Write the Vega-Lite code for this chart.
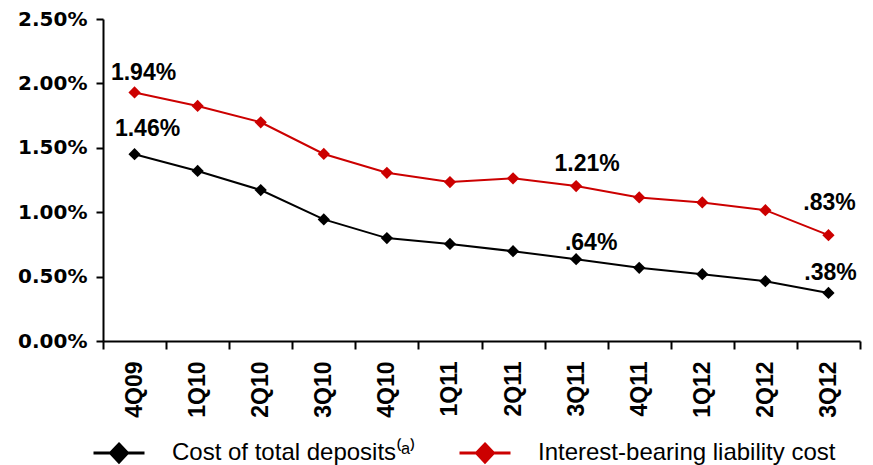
{
  "$schema": "https://vega.github.io/schema/vega-lite/v6.json",
  "width": 757,
  "height": 322,
  "autosize": {"type": "none"},
  "padding": {"left": 103, "top": 19, "right": 13, "bottom": 124},
  "config": {"view": {"stroke": null}, "font": "Liberation Sans"},
  "data": {
    "values": [
      {"quarter": "4Q09", "series": "Cost of total deposits⁽ᵃ⁾", "value": 1.45, "label": "1.46%"},
      {"quarter": "4Q09", "series": "Interest-bearing liability cost", "value": 1.93, "label": "1.94%"},
      {"quarter": "1Q10", "series": "Cost of total deposits⁽ᵃ⁾", "value": 1.32, "label": ""},
      {"quarter": "1Q10", "series": "Interest-bearing liability cost", "value": 1.825, "label": ""},
      {"quarter": "2Q10", "series": "Cost of total deposits⁽ᵃ⁾", "value": 1.172, "label": ""},
      {"quarter": "2Q10", "series": "Interest-bearing liability cost", "value": 1.698, "label": ""},
      {"quarter": "3Q10", "series": "Cost of total deposits⁽ᵃ⁾", "value": 0.944, "label": ""},
      {"quarter": "3Q10", "series": "Interest-bearing liability cost", "value": 1.452, "label": ""},
      {"quarter": "4Q10", "series": "Cost of total deposits⁽ᵃ⁾", "value": 0.799, "label": ""},
      {"quarter": "4Q10", "series": "Interest-bearing liability cost", "value": 1.306, "label": ""},
      {"quarter": "1Q11", "series": "Cost of total deposits⁽ᵃ⁾", "value": 0.754, "label": ""},
      {"quarter": "1Q11", "series": "Interest-bearing liability cost", "value": 1.234, "label": ""},
      {"quarter": "2Q11", "series": "Cost of total deposits⁽ᵃ⁾", "value": 0.697, "label": ""},
      {"quarter": "2Q11", "series": "Interest-bearing liability cost", "value": 1.263, "label": ""},
      {"quarter": "3Q11", "series": "Cost of total deposits⁽ᵃ⁾", "value": 0.635, "label": ".64%"},
      {"quarter": "3Q11", "series": "Interest-bearing liability cost", "value": 1.203, "label": "1.21%"},
      {"quarter": "4Q11", "series": "Cost of total deposits⁽ᵃ⁾", "value": 0.568, "label": ""},
      {"quarter": "4Q11", "series": "Interest-bearing liability cost", "value": 1.115, "label": ""},
      {"quarter": "1Q12", "series": "Cost of total deposits⁽ᵃ⁾", "value": 0.519, "label": ""},
      {"quarter": "1Q12", "series": "Interest-bearing liability cost", "value": 1.076, "label": ""},
      {"quarter": "2Q12", "series": "Cost of total deposits⁽ᵃ⁾", "value": 0.464, "label": ""},
      {"quarter": "2Q12", "series": "Interest-bearing liability cost", "value": 1.016, "label": ""},
      {"quarter": "3Q12", "series": "Cost of total deposits⁽ᵃ⁾", "value": 0.373, "label": ".38%"},
      {"quarter": "3Q12", "series": "Interest-bearing liability cost", "value": 0.822, "label": ".83%"}
    ]
  },
  "encoding": {
    "x": {
      "field": "quarter",
      "type": "ordinal",
      "sort": null,
      "scale": {"type": "band", "paddingInner": 0, "paddingOuter": 0},
      "axis": {
        "title": null,
        "labelAngle": -90,
        "labelFont": "Liberation Sans",
        "labelFontSize": 23,
        "labelFontWeight": "bold",
        "labelColor": "#000000",
        "labelPadding": 12,
        "tickBand": "extent",
        "tickSize": 8,
        "tickWidth": 2,
        "tickColor": "#000000",
        "domainColor": "#000000",
        "domainWidth": 2,
        "grid": false
      }
    },
    "y": {
      "field": "value",
      "type": "quantitative",
      "scale": {"domain": [0, 2.5], "nice": false},
      "axis": {
        "title": null,
        "values": [0, 0.5, 1, 1.5, 2, 2.5],
        "labelExpr": "format(datum.value, '.2f') + '%'",
        "labelFont": "DejaVu Sans",
        "labelFontWeight": "bold",
        "labelFontSize": 20,
        "labelColor": "#000000",
        "labelPadding": 9,
        "tickSize": 7,
        "tickWidth": 2,
        "tickColor": "#000000",
        "domainColor": "#000000",
        "domainWidth": 2,
        "grid": false
      }
    }
  },
  "layer": [
    {
      "mark": {
        "type": "line",
        "strokeWidth": 2,
        "point": {"shape": "diamond", "size": 150, "filled": true, "opacity": 1}
      },
      "encoding": {
        "color": {
          "field": "series",
          "type": "nominal",
          "scale": {
            "domain": ["Cost of total deposits⁽ᵃ⁾", "Interest-bearing liability cost"],
            "range": ["#000000", "#CC0000"]
          },
          "legend": {
            "title": null,
            "orient": "none",
            "legendX": -11,
            "legendY": 407,
            "direction": "horizontal",
            "symbolType": "M-1,0L1,0M0,-0.35L0.333,0L0,0.35L-0.333,0Z",
            "symbolSize": 2601,
            "symbolStrokeWidth": 3,
            "labelFont": "Liberation Sans",
            "labelFontSize": 24,
            "labelColor": "#000000",
            "labelOffset": 26,
            "labelLimit": 500,
            "columnPadding": 37,
            "padding": 0,
            "encode": {
              "symbols": {
                "update": {
                  "fill": {"scale": "color", "field": "value"},
                  "stroke": {"scale": "color", "field": "value"},
                  "opacity": {"value": 1}
                }
              }
            }
          }
        }
      }
    },
    {
      "transform": [{"filter": "datum.label == '1.94%'"}],
      "mark": {"type": "text", "font": "Liberation Sans", "fontWeight": "bold", "fontSize": 23, "color": "#000000", "baseline": "middle", "dx": 9, "dy": -19},
      "encoding": {"text": {"field": "label"}}
    },
    {
      "transform": [{"filter": "datum.label == '1.46%'"}],
      "mark": {"type": "text", "font": "Liberation Sans", "fontWeight": "bold", "fontSize": 23, "color": "#000000", "baseline": "middle", "dx": 13, "dy": -25},
      "encoding": {"text": {"field": "label"}}
    },
    {
      "transform": [{"filter": "datum.label == '1.21%'"}],
      "mark": {"type": "text", "font": "Liberation Sans", "fontWeight": "bold", "fontSize": 23, "color": "#000000", "baseline": "middle", "dx": 11, "dy": -22},
      "encoding": {"text": {"field": "label"}}
    },
    {
      "transform": [{"filter": "datum.label == '.64%'"}],
      "mark": {"type": "text", "font": "Liberation Sans", "fontWeight": "bold", "fontSize": 23, "color": "#000000", "baseline": "middle", "dx": 15, "dy": -16},
      "encoding": {"text": {"field": "label"}}
    },
    {
      "transform": [{"filter": "datum.label == '.83%'"}],
      "mark": {"type": "text", "font": "Liberation Sans", "fontWeight": "bold", "fontSize": 23, "color": "#000000", "baseline": "middle", "dx": 1, "dy": -32},
      "encoding": {"text": {"field": "label"}}
    },
    {
      "transform": [{"filter": "datum.label == '.38%'"}],
      "mark": {"type": "text", "font": "Liberation Sans", "fontWeight": "bold", "fontSize": 23, "color": "#000000", "baseline": "middle", "dx": 2, "dy": -20},
      "encoding": {"text": {"field": "label"}}
    }
  ]
}
